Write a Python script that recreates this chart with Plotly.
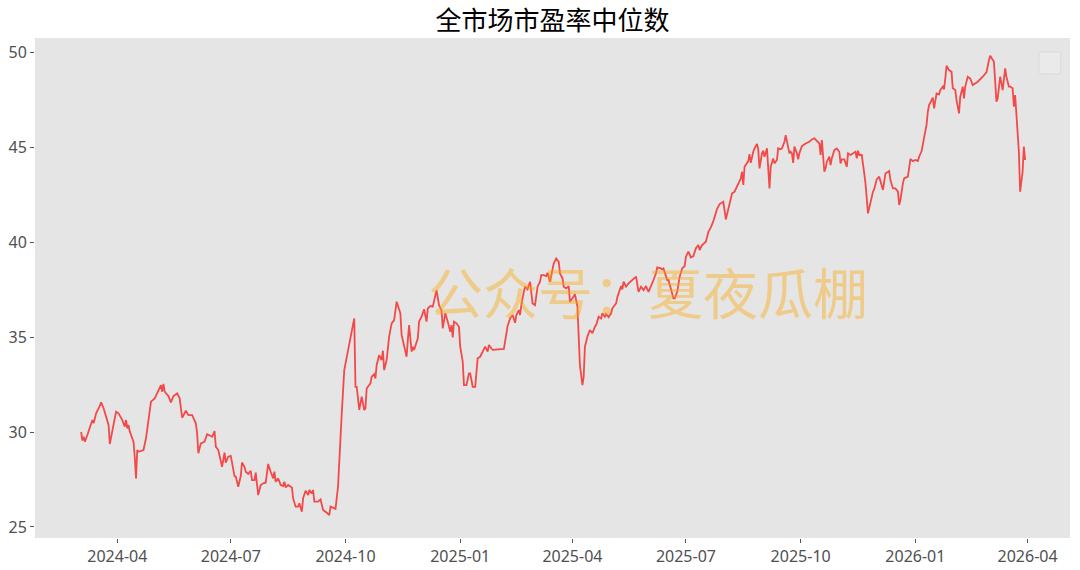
import plotly.graph_objects as go

title_text = "全市场市盈率中位数"
watermark_text = "公众号：夏夜瓜棚"

dates = [
    "2024-03-03", "2024-03-04", "2024-03-05", "2024-03-06", "2024-03-08", "2024-03-11", "2024-03-12", "2024-03-13",
    "2024-03-15", "2024-03-18", "2024-03-19", "2024-03-21", "2024-03-24", "2024-03-25", "2024-03-26", "2024-03-28",
    "2024-03-31", "2024-04-02", "2024-04-05", "2024-04-07", "2024-04-08", "2024-04-09", "2024-04-10", "2024-04-11",
    "2024-04-14", "2024-04-15", "2024-04-16", "2024-04-17", "2024-04-18", "2024-04-22", "2024-04-24", "2024-04-26",
    "2024-04-28", "2024-05-01", "2024-05-04", "2024-05-06", "2024-05-07", "2024-05-08", "2024-05-09", "2024-05-12",
    "2024-05-14", "2024-05-16", "2024-05-19", "2024-05-21", "2024-05-23", "2024-05-26", "2024-05-28", "2024-05-31",
    "2024-06-03", "2024-06-04", "2024-06-05", "2024-06-07", "2024-06-10", "2024-06-12", "2024-06-15", "2024-06-16",
    "2024-06-18", "2024-06-19", "2024-06-21", "2024-06-24", "2024-06-25", "2024-06-26", "2024-06-27", "2024-06-29",
    "2024-07-01", "2024-07-02", "2024-07-04", "2024-07-05", "2024-07-07", "2024-07-09", "2024-07-10", "2024-07-12",
    "2024-07-13", "2024-07-15", "2024-07-17", "2024-07-18", "2024-07-20", "2024-07-21", "2024-07-23", "2024-07-25",
    "2024-07-27", "2024-07-29", "2024-07-31", "2024-08-02", "2024-08-04", "2024-08-05", "2024-08-06", "2024-08-08",
    "2024-08-10", "2024-08-12", "2024-08-13", "2024-08-14", "2024-08-16", "2024-08-19", "2024-08-20", "2024-08-22",
    "2024-08-24", "2024-08-25", "2024-08-27", "2024-08-28", "2024-08-30", "2024-09-01", "2024-09-02", "2024-09-04",
    "2024-09-05", "2024-09-06", "2024-09-09", "2024-09-11", "2024-09-13", "2024-09-16", "2024-09-18", "2024-09-19",
    "2024-09-22", "2024-09-23", "2024-09-25", "2024-09-26", "2024-09-28", "2024-09-30", "2024-10-02", "2024-10-05",
    "2024-10-08", "2024-10-09", "2024-10-10", "2024-10-12", "2024-10-14", "2024-10-16", "2024-10-17", "2024-10-18",
    "2024-10-21", "2024-10-22", "2024-10-24", "2024-10-25", "2024-10-26", "2024-10-28", "2024-10-30", "2024-10-31",
    "2024-11-01", "2024-11-03", "2024-11-05", "2024-11-07", "2024-11-09", "2024-11-11", "2024-11-13", "2024-11-14",
    "2024-11-15", "2024-11-17", "2024-11-19", "2024-11-20", "2024-11-21", "2024-11-23", "2024-11-24", "2024-11-25",
    "2024-11-27", "2024-11-28", "2024-11-29", "2024-12-01", "2024-12-03", "2024-12-05", "2024-12-06", "2024-12-08",
    "2024-12-10", "2024-12-13", "2024-12-15", "2024-12-17", "2024-12-18", "2024-12-20", "2024-12-22", "2024-12-24",
    "2024-12-25", "2024-12-26", "2024-12-27", "2024-12-29", "2024-12-31", "2025-01-01", "2025-01-03", "2025-01-04",
    "2025-01-06", "2025-01-08", "2025-01-09", "2025-01-11", "2025-01-13", "2025-01-15", "2025-01-17", "2025-01-19",
    "2025-01-21", "2025-01-23", "2025-01-24", "2025-01-27", "2025-02-05", "2025-02-08", "2025-02-10", "2025-02-12",
    "2025-02-14", "2025-02-15", "2025-02-17", "2025-02-18", "2025-02-19", "2025-02-21", "2025-02-22", "2025-02-24",
    "2025-02-26", "2025-02-28", "2025-03-02", "2025-03-04", "2025-03-06", "2025-03-07", "2025-03-09", "2025-03-11",
    "2025-03-12", "2025-03-14", "2025-03-16", "2025-03-17", "2025-03-19", "2025-03-21", "2025-03-22", "2025-03-24",
    "2025-03-25", "2025-03-27", "2025-03-29", "2025-03-30", "2025-04-02", "2025-04-03", "2025-04-05", "2025-04-06",
    "2025-04-07", "2025-04-09", "2025-04-10", "2025-04-11", "2025-04-13", "2025-04-15", "2025-04-17", "2025-04-19",
    "2025-04-20", "2025-04-22", "2025-04-24", "2025-04-25", "2025-04-27", "2025-04-28", "2025-04-30", "2025-05-02",
    "2025-05-03", "2025-05-06", "2025-05-07", "2025-05-10", "2025-05-11", "2025-05-12", "2025-05-14", "2025-05-16",
    "2025-05-19", "2025-05-20", "2025-05-22", "2025-05-24", "2025-05-26", "2025-05-28", "2025-05-30", "2025-06-01",
    "2025-06-03", "2025-06-05", "2025-06-07", "2025-06-08", "2025-06-11", "2025-06-12", "2025-06-13", "2025-06-15",
    "2025-06-16", "2025-06-17", "2025-06-19", "2025-06-21", "2025-06-22", "2025-06-24", "2025-06-26", "2025-06-28",
    "2025-06-30", "2025-07-01", "2025-07-03", "2025-07-05", "2025-07-07", "2025-07-09", "2025-07-11", "2025-07-12",
    "2025-07-14", "2025-07-17", "2025-07-19", "2025-07-21", "2025-07-23", "2025-07-26", "2025-07-28", "2025-07-31",
    "2025-08-02", "2025-08-04", "2025-08-07", "2025-08-09", "2025-08-11", "2025-08-12", "2025-08-14", "2025-08-15",
    "2025-08-16", "2025-08-17", "2025-08-19", "2025-08-20", "2025-08-21", "2025-08-22", "2025-08-24", "2025-08-25",
    "2025-08-27", "2025-08-28", "2025-08-29", "2025-08-31", "2025-09-01", "2025-09-02", "2025-09-04", "2025-09-05",
    "2025-09-06", "2025-09-07", "2025-09-09", "2025-09-10", "2025-09-12", "2025-09-13", "2025-09-15", "2025-09-16",
    "2025-09-18", "2025-09-19", "2025-09-20", "2025-09-22", "2025-09-23", "2025-09-24", "2025-09-25", "2025-09-26",
    "2025-09-28", "2025-09-29", "2025-09-30", "2025-10-02", "2025-10-05", "2025-10-08", "2025-10-10", "2025-10-12",
    "2025-10-14", "2025-10-16", "2025-10-17", "2025-10-18", "2025-10-20", "2025-10-21", "2025-10-22", "2025-10-24",
    "2025-10-25", "2025-10-26", "2025-10-28", "2025-10-30", "2025-11-01", "2025-11-02", "2025-11-03", "2025-11-05",
    "2025-11-07", "2025-11-08", "2025-11-10", "2025-11-12", "2025-11-14", "2025-11-15", "2025-11-16", "2025-11-17",
    "2025-11-19", "2025-11-21", "2025-11-22", "2025-11-24", "2025-11-26", "2025-11-28", "2025-11-29", "2025-12-01",
    "2025-12-03", "2025-12-05", "2025-12-06", "2025-12-08", "2025-12-10", "2025-12-11", "2025-12-12", "2025-12-14",
    "2025-12-16", "2025-12-18", "2025-12-19", "2025-12-20", "2025-12-22", "2025-12-23", "2025-12-26", "2025-12-28",
    "2025-12-30", "2026-01-01", "2026-01-03", "2026-01-04", "2026-01-06", "2026-01-07", "2026-01-09", "2026-01-10",
    "2026-01-11", "2026-01-12", "2026-01-14", "2026-01-15", "2026-01-16", "2026-01-17", "2026-01-18", "2026-01-20",
    "2026-01-21", "2026-01-23", "2026-01-24", "2026-01-25", "2026-01-26", "2026-01-28", "2026-01-30", "2026-01-31",
    "2026-02-02", "2026-02-03", "2026-02-05", "2026-02-06", "2026-02-08", "2026-02-09", "2026-02-10", "2026-02-12",
    "2026-02-14", "2026-02-16", "2026-02-20", "2026-02-24", "2026-02-27", "2026-03-01", "2026-03-02", "2026-03-05",
    "2026-03-06", "2026-03-07", "2026-03-08", "2026-03-10", "2026-03-11", "2026-03-12", "2026-03-14", "2026-03-15",
    "2026-03-17", "2026-03-18", "2026-03-20", "2026-03-21", "2026-03-22", "2026-03-23", "2026-03-25", "2026-03-26",
    "2026-03-28", "2026-03-29", "2026-03-30",
]

pe_median = [
    30.0, 29.55, 29.75, 29.49, 29.84, 30.46, 30.63, 30.46,
    30.98, 31.37, 31.56, 31.25, 30.54, 30.37, 29.37, 30.1,
    31.07, 30.98, 30.63, 30.28, 30.63, 30.19, 30.37, 30.02,
    29.49, 28.67, 27.56, 29.05, 28.96, 29.05, 29.67, 30.63,
    31.6, 31.77, 32.21, 32.47, 32.12, 32.53, 32.12, 31.89,
    31.56, 31.89, 32.03, 31.77, 30.75, 31.12, 30.89, 30.89,
    30.46, 29.93, 28.88, 29.4, 29.49, 29.88, 29.79, 29.75,
    30.05, 29.23, 29.05, 28.17, 28.53, 28.91, 28.39, 28.7,
    28.74, 28.35, 27.68, 27.65, 27.12, 27.68, 28.39, 28.17,
    27.91, 27.79, 27.96, 27.47, 27.47, 27.86, 26.68, 27.21,
    27.3, 27.33, 28.32, 27.91, 27.56, 27.91, 27.38, 27.56,
    27.21, 27.16, 27.38, 27.08, 27.21, 27.08, 26.51, 26.07,
    26.07, 26.25, 25.8, 26.51, 26.91, 26.68, 26.95, 26.77,
    26.95, 26.33, 26.33, 26.45, 25.89, 25.75, 25.63, 26.07,
    25.98, 25.95, 27.12, 28.53, 30.98, 33.26, 33.96, 34.84,
    35.98, 32.38, 32.38, 31.16, 31.86, 31.16, 31.24, 32.3,
    32.56, 32.91, 33.04, 32.82, 33.53, 34.05, 33.79, 34.28,
    33.26, 33.79, 35.02, 35.72, 35.89, 36.86, 36.42, 36.25,
    35.11, 34.58, 33.96, 34.84, 35.63, 34.23, 34.49, 34.32,
    34.67, 34.93, 35.81, 36.07, 36.46, 35.81, 36.51, 36.63,
    36.6, 37.47, 36.68, 36.4, 35.46, 36.25, 35.81, 35.28,
    35.63, 34.98, 35.81, 35.72, 35.54, 34.49, 33.7, 32.47,
    32.47, 33.09, 33.09, 32.38, 32.38, 33.88, 33.96, 34.23,
    34.49, 34.23, 34.58, 34.32, 34.37, 35.58, 35.98, 36.16,
    35.75, 36.16, 36.42, 36.16, 36.68, 37.38, 37.65, 37.51,
    37.91, 36.77, 36.68, 37.65, 37.91, 38.26, 38.26, 38.21,
    38.38, 37.91, 38.53, 38.88, 39.14, 38.96, 38.35, 38.09,
    37.65, 37.56, 37.68, 36.85, 37.15, 37.25, 36.6, 35.0,
    33.5, 32.47, 32.91, 34.49, 35.02, 35.37, 35.2, 35.54,
    35.63, 36.07, 35.98, 36.25, 36.07, 36.21, 36.04, 36.25,
    36.51, 36.77, 37.09, 37.68, 37.51, 37.91, 37.65, 37.82,
    38.0, 38.09, 38.18, 37.38, 37.65, 37.47, 37.68, 37.38,
    37.65, 38.0, 38.35, 38.67, 38.61, 38.56, 38.61, 38.18,
    38.0, 38.0, 37.47, 37.03, 37.03, 37.38, 38.18, 38.61,
    38.74, 39.23, 39.49, 39.19, 39.26, 39.67, 39.84, 39.58,
    39.84, 40.02, 40.54, 40.77, 41.1, 41.75, 42.0, 42.12,
    41.19, 41.77, 42.56, 42.65, 42.91, 43.09, 43.35, 43.7,
    43.0, 43.96, 44.14, 44.26, 44.63, 44.17, 44.75, 44.93,
    45.16, 44.88, 43.88, 44.67, 44.81, 44.49, 44.93, 43.88,
    42.82, 43.96, 44.4, 44.14, 44.32, 44.93, 44.88, 44.93,
    45.28, 45.63, 45.28, 44.67, 44.75, 44.67, 44.17, 45.02,
    44.67, 44.35, 44.67, 45.05, 45.19, 45.28, 45.4, 45.46,
    45.33, 45.19, 44.58, 45.37, 43.7, 43.88, 44.23, 44.49,
    44.05, 44.4, 44.84, 44.93, 44.75, 44.14, 44.35, 44.35,
    43.96, 44.67, 44.58, 44.67, 44.75, 44.4, 44.81, 44.58,
    44.58, 43.61, 43.09, 41.51, 42.1, 42.65, 42.78, 43.3,
    43.44, 43.0, 42.74, 43.61, 43.7, 43.74, 43.26, 42.82,
    42.82, 42.65, 41.95, 42.21, 43.09, 43.35, 43.44, 44.37,
    44.26, 44.32, 44.26, 44.49, 44.79, 45.1, 45.72, 46.19,
    46.86, 47.21, 47.47, 47.6, 47.04, 47.47, 47.82, 47.77,
    48.0, 48.18, 48.04, 48.61, 49.28, 49.05, 48.96, 48.09,
    48.0, 47.47, 46.77, 47.65, 48.18, 47.56, 48.18, 48.7,
    48.61, 48.26, 48.44, 48.7, 48.93, 49.58, 49.81, 49.49,
    48.35, 47.39, 47.56, 48.7, 48.35, 48.0, 49.14, 48.7,
    48.18, 48.18, 48.09, 47.12, 47.74, 46.68, 44.75, 42.65,
    43.7, 45.02, 44.32,
]

x_tick_vals = ["2024-04-01", "2024-07-01", "2024-10-01", "2025-01-01", "2025-04-01",
               "2025-07-01", "2025-10-01", "2026-01-01", "2026-04-01"]
x_tick_text = ["2024-04", "2024-07", "2024-10", "2025-01", "2025-04",
               "2025-07", "2025-10", "2026-01", "2026-04"]
y_tick_vals = [25, 30, 35, 40, 45, 50]

fig = go.Figure()
fig.add_trace(go.Scatter(
    x=dates, y=pe_median, mode="lines",
    line=dict(color="rgba(245,55,55,0.9)", width=1.8),
    showlegend=False,
))

fig.update_layout(
    width=1080, height=570,
    margin=dict(l=35, r=10, t=38, b=32, autoexpand=False),
    paper_bgcolor="white",
    plot_bgcolor="#e5e5e5",
    title=dict(text=title_text, x=0.5, xanchor="center", xref="paper",
               yref="container", y=0.964, yanchor="middle", automargin=False,
               font=dict(family="Noto Sans CJK SC", size=26, color="black")),
    font=dict(family="Noto Sans, DejaVu Sans", size=16, color="#555555"),
    xaxis=dict(
        type="date", range=["2024-01-26", "2026-05-05"],
        tickvals=x_tick_vals, ticktext=x_tick_text,
        showgrid=False, zeroline=False, showline=False, automargin=False,
        ticks="outside", ticklen=4, tickcolor="#555555",
        tickfont=dict(size=16, color="#505050"),
    ),
    yaxis=dict(
        range=[24.42, 50.74], tickvals=y_tick_vals,
        showgrid=False, zeroline=False, showline=False, automargin=False,
        ticks="outside", ticklen=4, tickcolor="#555555",
        tickfont=dict(size=16, color="#505050"),
    ),
    annotations=[dict(
        text=watermark_text, xref="paper", yref="paper", x=0.592, y=0.496,
        xanchor="center", yanchor="middle", showarrow=False,
        font=dict(family="Noto Sans CJK SC", size=55, color="rgba(255,165,0,0.4)"),
    )],
    shapes=[dict(
        type="path", xref="paper", yref="paper",
        path="M 0.972 0.972 L 0.989 0.972 Q 0.991 0.972 0.991 0.966 L 0.991 0.934 Q 0.991 0.928 0.989 0.928 L 0.972 0.928 Q 0.970 0.928 0.970 0.934 L 0.970 0.966 Q 0.970 0.972 0.972 0.972 Z",
        fillcolor="rgba(235,235,235,0.8)", line=dict(color="rgba(215,215,215,0.8)", width=1),
    )],
)

# remove the browser's default 8px body margin so the figure sits at the page origin
fig.write_html("out.html", config={"displayModeBar": False},
               post_script="document.body.style.margin='0';")
